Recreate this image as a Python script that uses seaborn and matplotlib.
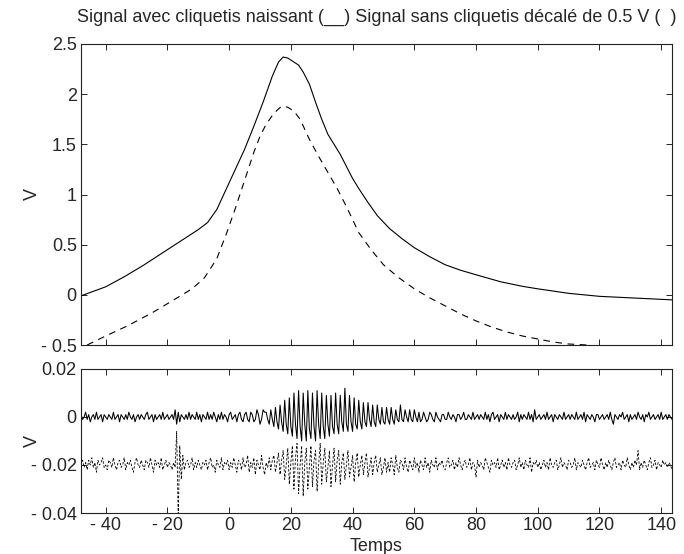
import numpy as np
import pandas as pd
import matplotlib
matplotlib.use("Agg")
import matplotlib.pyplot as plt
import seaborn as sns

# ---------------- data ----------------
title_text = "Signal avec cliquetis naissant (__) Signal sans cliquetis décalé de 0.5 V (  )"

# upper panel: signal with incipient knock (solid)
t_knock = [-48, -40, -34, -28, -22, -16, -10, -7, -4, -1, 2, 5, 8, 11, 14, 16, 17.5,
           19, 21, 22.5, 24, 26, 28, 30, 32, 34, 36, 38, 40, 42, 45, 48, 52, 56, 60,
           65, 70, 75, 80, 88, 95, 100, 110, 120, 130, 143.5]
v_knock = [-0.01, 0.08, 0.18, 0.29, 0.41, 0.53, 0.65, 0.72, 0.85, 1.05, 1.25, 1.45,
           1.68, 1.92, 2.18, 2.32, 2.37, 2.36, 2.32, 2.29, 2.22, 2.10, 1.92, 1.75,
           1.60, 1.50, 1.40, 1.28, 1.16, 1.06, 0.92, 0.79, 0.66, 0.56, 0.47, 0.38,
           0.30, 0.245, 0.20, 0.13, 0.085, 0.06, 0.015, -0.015, -0.03, -0.05]

# upper panel: signal without knock, shifted by 0.5 V (dashed)
t_noknock = [-46, -40, -33, -25, -19, -12, -8, -4, -1, 2, 5, 8, 10, 12, 14.5, 17,
             19, 21, 23, 26, 29, 32, 35, 38, 42, 46, 50, 55, 60, 65, 70, 75, 80, 85,
             90, 95, 100, 105, 110, 116]
v_noknock = [-0.50, -0.41, -0.31, -0.18, -0.07, 0.06, 0.17, 0.36, 0.60, 0.86, 1.14,
             1.42, 1.58, 1.70, 1.81, 1.88, 1.87, 1.83, 1.75, 1.55, 1.38, 1.22, 1.06,
             0.88, 0.62, 0.45, 0.30, 0.17, 0.06, -0.03, -0.11, -0.19, -0.26, -0.32,
             -0.37, -0.41, -0.44, -0.47, -0.49, -0.50]

# lower panel: high-pass signals, sampled every 0.5 from t = -48 (values in mV)
hp_t0 = -48.0
hp_dt = 0.5
hp_knock_mV = [
    1, -1, 0, 2, -1, 1, -2, 0, 1, -1, 2, -1, 0, 1, -2, 1, 0, -1, 1, 0,
    -1, 2, -1, 0, 1, -2, 1, 0, -1, 1, -1, 2, 0, -1, 1, -2, 0, 1, -1, 1,
    0, -1, 1, 2, -1, 0, 1, -2, 1, -1, 0, 1, -1, 2, -1, 0, 1, -1, 0, 1,
    -1, 3, -3, 2, -2, 1, 0, -1, 1, -1, 2, -1, 1, 0, -1, 2, -1, 1, -2, 1,
    0, -1, 2, -1, 1, -1, 2, 0, -2, 1, -1, 2, -1, 1, 0, -2, 1, 2, -1, 0,
    1, -2, 1, 2, -1, -2, 1, 2, -1, -2, 2, 1, -2, -1, 3, 1, -3, -1, 3, 2,
    2, -1, -3, 3, -1, -4, 4, -2, -5, 5, -2, -6, 7, -3, -7, 8, -4, -8, 10, -3,
    -9, 11, -4, -10, 10, -3, -10, 11, -5, -9, 10, -4, -10, 11, -3, -9, 10, -4, -9, 9,
    -3, -8, 9, -4, -7, 10, -3, -7, 9, -2, -6, 12, -3, -6, 9, -2, -6, 8, -3, -5,
    7, -2, -5, 6, -2, -4, 6, -1, -4, 5, -2, -4, 5, -1, -3, 4, -2, -3, 4, -1,
    -3, 4, -1, -3, 3, -1, -2, 5, -1, -2, 3, 0, -2, 3, -1, -2, 3, 0, -2, 2,
    -2, -1, 2, 0, -2, -1, 2, 1, -1, -2, 2, 0, -1, -2, 1, 1, -1, -1, 2, 0,
    -1, 1, 0, -2, 1, 1, -1, 0, 2, -1, -1, 1, 0, -1, 2, -1, 0, 1, -1, 1,
    0, -1, 2, -1, 1, -2, 1, 2, -1, 0, 1, -2, 1, 0, -1, 2, -1, 1, 0, -1,
    1, -1, 0, 2, -2, 1, -1, 1, 0, -1, 2, -1, 1, -2, 3, -1, 0, 1, -1, 0,
    1, -1, 2, -1, 0, 1, -2, 1, 0, -1, 1, 0, -1, 2, -1, 0, 1, -1, 1, 0,
    -1, 2, -1, 0, 1, -1, 2, -2, 1, 0, -1, 1, 0, -2, 1, 1, -1, 0, 1, -1,
    0, 1, -1, 2, -1, -3, 1, 0, -1, 1, 0, 2, -1, 0, 1, -2, 1, -1, 0, 1,
    -1, 2, 0, -1, 1, -2, 1, 0, 2, -1, 0, 1, -1, 0, 1, -1, 2, -1, 0, 1,
    -1, 1, 0, -1,
]
hp_noknock_mV = [
    -20, -18, -21, -19, -22, -18, -20, -17, -21, -19, -23, -18, -20, -19, -17, -21, -20, -22, -18, -19,
    -21, -17, -20, -22, -19, -18, -21, -20, -17, -22, -19, -20, -18, -21, -23, -19, -17, -20, -21, -18,
    -20, -22, -18, -19, -21, -17, -20, -23, -18, -20, -19, -21, -17, -22, -20, -18, -21, -19, -20, -22,
    -19, -21, -6, -42, -12, -26, -16, -22, -19, -18, -21, -20, -17, -22, -19, -21, -18, -20, -22, -19,
    -20, -18, -22, -19, -17, -21, -20, -23, -18, -20, -21, -17, -22, -19, -20, -18, -22, -19, -21, -17,
    -20, -23, -18, -19, -22, -17, -21, -20, -16, -23, -19, -21, -17, -24, -18, -20, -22, -16, -21, -24,
    -19, -21, -17, -22, -18, -16, -23, -19, -15, -24, -18, -14, -26, -20, -13, -28, -19, -12, -30, -17,
    -11, -32, -20, -12, -33, -19, -13, -30, -21, -12, -29, -18, -14, -31, -20, -11, -28, -19, -13, -27,
    -21, -14, -29, -20, -13, -27, -18, -14, -28, -19, -15, -26, -20, -14, -25, -21, -16, -27, -19, -15,
    -25, -20, -16, -24, -19, -15, -25, -21, -17, -24, -19, -16, -23, -20, -17, -24, -21, -17, -23, -19,
    -23, -17, -20, -24, -16, -21, -23, -18, -19, -22, -17, -21, -23, -18, -20, -22, -17, -21, -19, -23,
    -18, -20, -22, -17, -21, -19, -23, -18, -20, -21, -17, -22, -19, -20, -18, -21, -22, -19, -17, -21,
    -20, -18, -22, -19, -21, -17, -20, -22, -19, -18, -21, -20, -17, -22, -19, -20, -25, -18, -21, -19,
    -20, -22, -17, -19, -21, -23, -18, -20, -19, -21, -17, -22, -20, -18, -21, -19, -22, -17, -20, -21,
    -19, -18, -22, -20, -17, -21, -19, -22, -18, -20, -21, -17, -23, -19, -20, -18, -21, -19, -22, -20,
    -18, -21, -19, -22, -17, -20, -21, -19, -18, -22, -20, -17, -21, -19, -20, -22, -18, -19, -21, -20,
    -17, -22, -19, -20, -21, -18, -20, -22, -19, -17, -21, -20, -19, -22, -18, -20, -21, -17, -20, -22,
    -19, -21, -18, -20, -22, -19, -17, -21, -20, -19, -22, -18, -20, -21, -17, -20, -22, -19, -21, -18,
    -20, -14, -22, -19, -21, -18, -20, -22, -19, -17, -21, -20, -18, -22, -19, -20, -21, -18, -20, -19,
    -21, -19, -20, -22,
]

x_ticks = [-40, -20, 0, 20, 40, 60, 80, 100, 120, 140]
x_ticklabels = ["- 40", "- 20", "0", "20", "40", "60", "80", "100", "120", "140"]
top_yticks = [-0.5, 0, 0.5, 1, 1.5, 2, 2.5]
top_yticklabels = ["- 0.5", "0", "0.5", "1", "1.5", "2", "2.5"]
bot_yticks = [-0.04, -0.02, 0, 0.02]
bot_yticklabels = ["- 0.04", "- 0.02", "0", "0.02"]

# ---------------- style ----------------
sns.set_style("ticks")
plt.rcParams["font.family"] = ["Liberation Sans", "DejaVu Sans"]
plt.rcParams.update({
    "xtick.direction": "in", "ytick.direction": "in",
    "xtick.top": True, "ytick.right": True,
    "xtick.major.size": 4, "ytick.major.size": 4,
    "xtick.major.width": 0.7, "ytick.major.width": 0.7,
    "axes.linewidth": 0.8, "axes.edgecolor": "#222222",
    "font.size": 13,
})

fig = plt.figure(figsize=(6.84, 5.54), dpi=100)
W, H = 684.0, 554.0
left, right = 81, 672
ax1 = fig.add_axes([left / W, 1 - 345 / H, (right - left) / W, (345 - 44) / H])
ax2 = fig.add_axes([left / W, 1 - 513 / H, (right - left) / W, (513 - 369) / H])

top_k = pd.DataFrame({"t": t_knock, "v": v_knock})
top_n = pd.DataFrame({"t": t_noknock, "v": v_noknock})
sns.lineplot(data=top_k, x="t", y="v", ax=ax1, color="black", linewidth=0.8,
             estimator=None, sort=False)
sns.lineplot(data=top_n, x="t", y="v", ax=ax1, color="black", linewidth=0.8,
             estimator=None, sort=False, linestyle=(0, (6, 5)))

n = len(hp_knock_mV)
hp_t = hp_t0 + hp_dt * np.arange(n)
bot = pd.DataFrame({"t": hp_t,
                    "k": np.array(hp_knock_mV) / 1000.0,
                    "nk": np.array(hp_noknock_mV[:n]) / 1000.0})
sns.lineplot(data=bot, x="t", y="k", ax=ax2, color="black", linewidth=0.75,
             estimator=None, sort=False)
sns.lineplot(data=bot, x="t", y="nk", ax=ax2, color="black", linewidth=0.6,
             estimator=None, sort=False, linestyle=(0, (3, 2)))

for ax in (ax1, ax2):
    ax.set_xlim(-48, 143.5)
    ax.set_xticks(x_ticks)
    ax.tick_params(axis="both", labelsize=13, pad=3)
    ax.set_ylabel("V", fontsize=13)
    ax.yaxis.set_label_coords(-0.068, 0.5)

ax1.set_ylim(-0.5, 2.5)
ax1.set_yticks(top_yticks)
ax1.set_yticklabels(top_yticklabels)
ax1.set_xticklabels([])
ax1.set_xlabel("")
ax1.set_title(title_text, fontsize=13, pad=16)

ax2.set_ylim(-0.04, 0.02)
ax2.set_yticks(bot_yticks)
ax2.set_yticklabels(bot_yticklabels)
ax2.set_xticklabels(x_ticklabels)
ax2.set_xlabel("Temps", fontsize=13, labelpad=3)

fig.savefig("out.png", dpi=100)
